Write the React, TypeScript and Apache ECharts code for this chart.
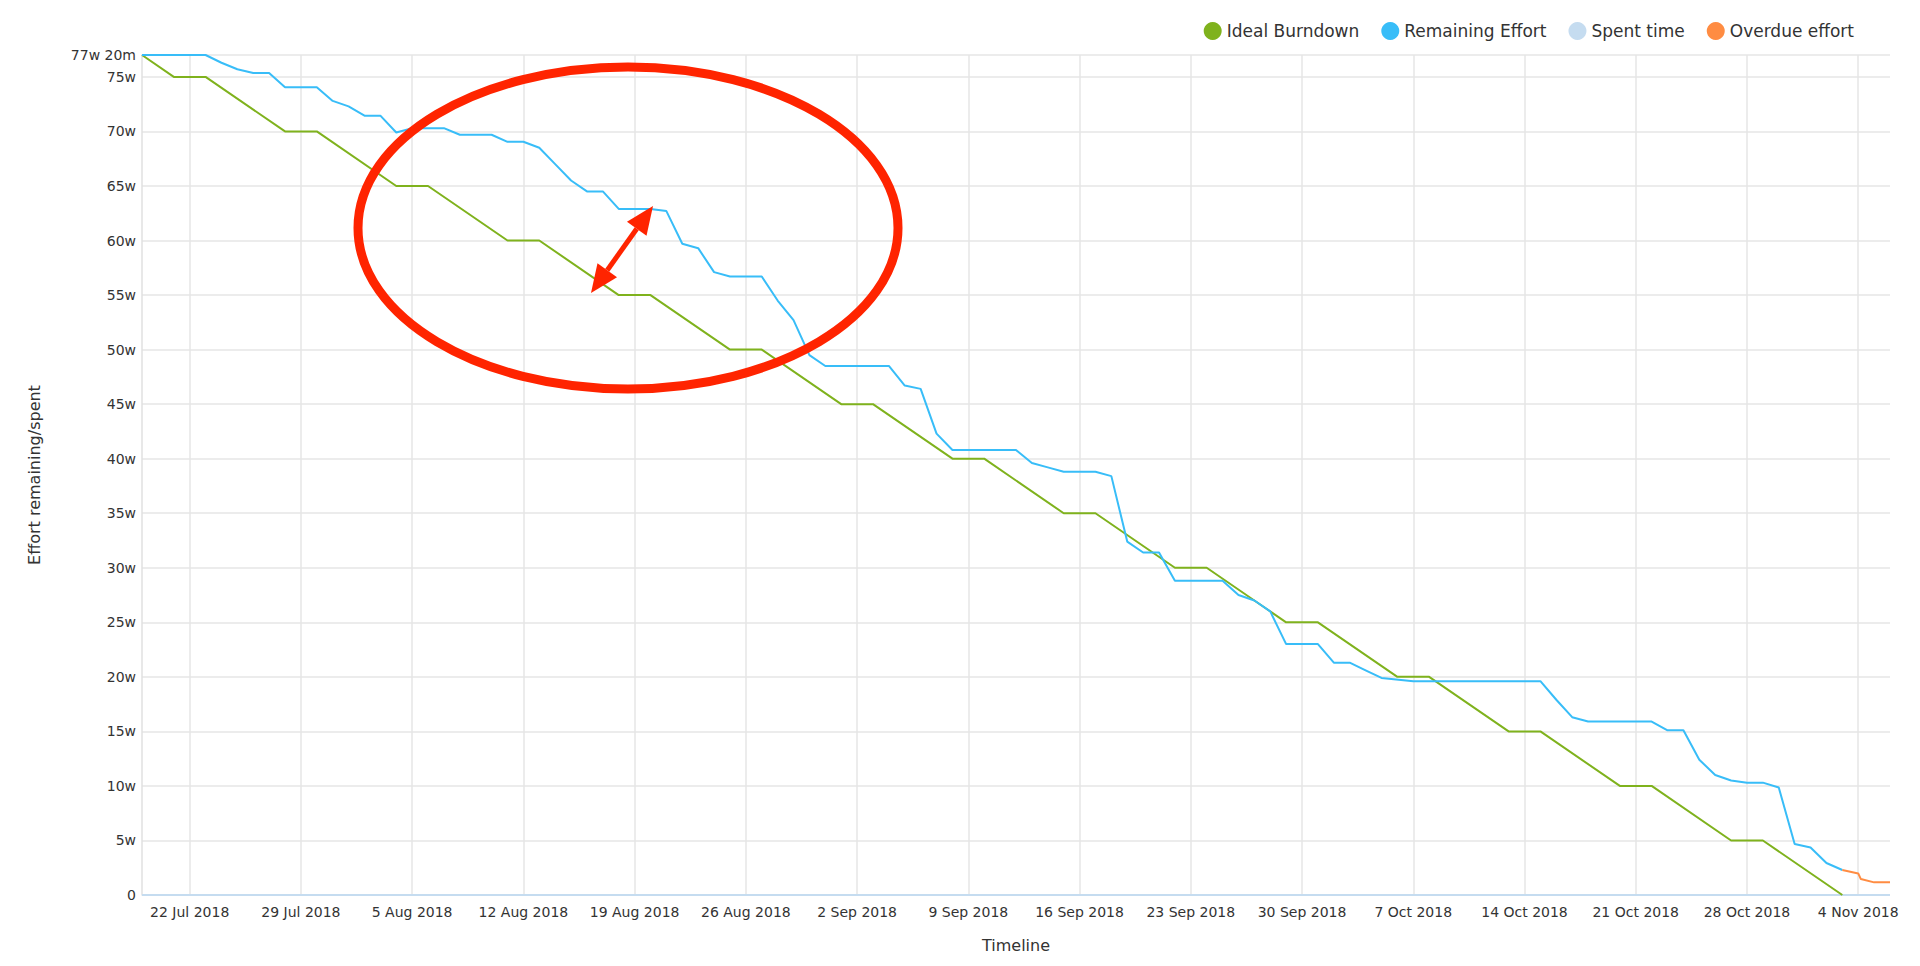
import React, { useEffect, useRef } from 'react';
import * as echarts from 'echarts';

// ---------- data ----------
const axisStart = '2018-07-19';
const axisEnd = '2018-11-06';
const yMax = 77 + 20 / 2400; // 77w 20m
const yInterval = 5;

const weekTicks = [
  '2018-07-22', '2018-07-29', '2018-08-05', '2018-08-12', '2018-08-19', '2018-08-26',
  '2018-09-02', '2018-09-09', '2018-09-16', '2018-09-23', '2018-09-30', '2018-10-07',
  '2018-10-14', '2018-10-21', '2018-10-28', '2018-11-04',
];
const monthNames = ['Jan', 'Feb', 'Mar', 'Apr', 'May', 'Jun', 'Jul', 'Aug', 'Sep', 'Oct', 'Nov', 'Dec'];

const seriesNames = ['Ideal Burndown', 'Remaining Effort', 'Spent time', 'Overdue effort'];
const seriesColors = ['#7fb21d', '#38bdf8', '#c5dcf0', '#ff8c42'];

const idealDates = [
  '2018-07-19', '2018-07-21', '2018-07-23', '2018-07-28', '2018-07-30', '2018-08-04', '2018-08-06',
  '2018-08-11', '2018-08-13', '2018-08-18', '2018-08-20', '2018-08-25', '2018-08-27', '2018-09-01',
  '2018-09-03', '2018-09-08', '2018-09-10', '2018-09-15', '2018-09-17', '2018-09-22', '2018-09-24',
  '2018-09-29', '2018-10-01', '2018-10-06', '2018-10-08', '2018-10-13', '2018-10-15', '2018-10-20',
  '2018-10-22', '2018-10-27', '2018-10-29', '2018-11-03',
];
const idealValues = [
  yMax, 75, 75, 70, 70, 65, 65,
  60, 60, 55, 55, 50, 50, 45,
  45, 40, 40, 35, 35, 30, 30,
  25, 25, 20, 20, 15, 15, 10,
  10, 5, 5, 0,
];

const remainingDates = [
  '2018-07-19', '2018-07-23', '2018-07-24', '2018-07-25', '2018-07-26', '2018-07-27', '2018-07-28',
  '2018-07-30', '2018-07-31', '2018-08-01', '2018-08-02', '2018-08-03', '2018-08-04', '2018-08-05',
  '2018-08-07', '2018-08-08', '2018-08-10', '2018-08-11', '2018-08-12', '2018-08-13', '2018-08-14',
  '2018-08-15', '2018-08-16', '2018-08-17', '2018-08-18', '2018-08-20', '2018-08-21', '2018-08-22',
  '2018-08-23', '2018-08-24', '2018-08-25', '2018-08-27', '2018-08-28', '2018-08-29', '2018-08-30',
  '2018-08-31', '2018-09-04', '2018-09-05', '2018-09-06', '2018-09-07', '2018-09-08', '2018-09-12',
  '2018-09-13', '2018-09-14', '2018-09-15', '2018-09-17', '2018-09-18', '2018-09-19', '2018-09-20',
  '2018-09-21', '2018-09-22', '2018-09-25', '2018-09-26', '2018-09-27', '2018-09-28', '2018-09-29',
  '2018-10-01', '2018-10-02', '2018-10-03', '2018-10-04', '2018-10-05', '2018-10-07', '2018-10-15',
  '2018-10-16', '2018-10-17', '2018-10-18', '2018-10-22', '2018-10-23', '2018-10-24', '2018-10-25',
  '2018-10-26', '2018-10-27', '2018-10-28', '2018-10-29', '2018-10-30', '2018-10-31', '2018-11-01',
  '2018-11-02', '2018-11-03',
];
const remainingValues = [
  yMax, yMax, 76.3, 75.7, 75.36, 75.36, 74.05,
  74.05, 72.8, 72.3, 71.45, 71.45, 69.9, 70.3,
  70.3, 69.7, 69.7, 69.05, 69.05, 68.5, 67.0,
  65.5, 64.5, 64.5, 62.9, 62.9, 62.7, 59.7,
  59.3, 57.1, 56.7, 56.7, 54.5, 52.7, 49.5,
  48.5, 48.5, 46.7, 46.4, 42.3, 40.8, 40.8,
  39.6, 39.2, 38.8, 38.8, 38.4, 32.4, 31.4,
  31.4, 28.8, 28.8, 27.5, 27.0, 26.0, 23.0,
  23.0, 21.3, 21.3, 20.6, 19.9, 19.6, 19.6,
  17.9, 16.3, 15.9, 15.9, 15.1, 15.1, 12.4,
  11.0, 10.5, 10.3, 10.3, 9.85, 4.67, 4.36,
  2.93, 2.29,
];

const spentDates = ['2018-07-19', '2018-11-06'];
const spentValues = [0, 0];

const overdueDates = ['2018-11-03', '2018-11-04', '2018-11-04 04:00', '2018-11-05', '2018-11-06'];
const overdueValues = [2.29, 1.98, 1.46, 1.16, 1.16];

// ---------- helpers ----------
const toTs = (s: string) => {
  const [datePart, timePart] = s.split(' ');
  const [y, m, d] = datePart.split('-').map(Number);
  const [hh, mm] = timePart ? timePart.split(':').map(Number) : [0, 0];
  return new Date(y, m - 1, d, hh, mm).getTime();
};
const pairs = (dates: string[], values: number[]) => dates.map((d, i) => [toTs(d), values[i]]);

const fmtEffort = (v: number) => {
  if (v === 0) return '0';
  const w = Math.floor(v + 1e-9);
  const mins = Math.round((v - w) * 2400);
  return mins > 0 ? `${w}w ${mins}m` : `${w}w`;
};
const fmtDate = (v: number) => {
  const d = new Date(v);
  return `${d.getDate()} ${monthNames[d.getMonth()]} ${d.getFullYear()}`;
};

const FONT = '"DejaVu Sans", sans-serif';

export default function App() {
  const ref = useRef<HTMLDivElement>(null);

  useEffect(() => {
    if (!ref.current) return;
    const chart = echarts.init(ref.current, undefined, { renderer: 'svg' });
    const dataSets = [
      pairs(idealDates, idealValues),
      pairs(remainingDates, remainingValues),
      pairs(spentDates, spentValues),
      pairs(overdueDates, overdueValues),
    ];
    const tickTs = weekTicks.map(toTs);

    // annotation arrow geometry
    const p1 = [591, 293];
    const p2 = [653, 206];
    const len = Math.hypot(p2[0] - p1[0], p2[1] - p1[1]);
    const u = [(p2[0] - p1[0]) / len, (p2[1] - p1[1]) / len];
    const n = [-u[1], u[0]];
    const L = 28;
    const W = 12;
    const b2 = [p2[0] - u[0] * L, p2[1] - u[1] * L];
    const b1 = [p1[0] + u[0] * L, p1[1] + u[1] * L];

    chart.setOption({
      animation: false,
      backgroundColor: '#ffffff',
      textStyle: { fontFamily: FONT },
      color: seriesColors,
      legend: {
        top: 17,
        right: 61,
        itemGap: 22,
        itemWidth: 18,
        itemHeight: 18,
        icon: 'circle',
        textStyle: { fontSize: 17, color: '#333', fontFamily: FONT },
        data: seriesNames,
      },
      grid: { left: 142, right: 30, top: 55, bottom: 71, containLabel: false },
      xAxis: {
        type: 'value',
        min: toTs(axisStart),
        max: toTs(axisEnd),
        name: 'Timeline',
        nameLocation: 'middle',
        nameGap: 42,
        nameTextStyle: { fontSize: 16, color: '#333', fontFamily: FONT },
        axisLine: { show: false },
        axisTick: { show: false, customValues: tickTs },
        axisLabel: {
          customValues: tickTs,
          formatter: (v: number) => fmtDate(v),
          fontSize: 14,
          color: '#333',
          fontFamily: FONT,
          margin: 10,
          hideOverlap: false,
        },
        splitLine: { show: true, lineStyle: { color: '#e6e6e6', width: 1.5 } },
      },
      yAxis: {
        type: 'value',
        min: 0,
        max: yMax,
        interval: yInterval,
        name: 'Effort remaining/spent',
        nameLocation: 'middle',
        nameGap: 100,
        nameTextStyle: { fontSize: 16, color: '#333', fontFamily: FONT },
        axisLine: { show: true, lineStyle: { color: '#e0e0e0', width: 1.5 } },
        axisTick: { show: false },
        axisLabel: {
          formatter: (v: number) => fmtEffort(v),
          fontSize: 14,
          color: '#333',
          fontFamily: FONT,
          margin: 6,
          showMaxLabel: true,
        },
        splitLine: { show: true, lineStyle: { color: '#e6e6e6', width: 1.5 } },
      },
      series: seriesNames.map((name, i) => ({
        name,
        type: 'line',
        data: dataSets[i],
        showSymbol: false,
        symbol: 'none',
        lineStyle: { width: 2, color: seriesColors[i] },
        itemStyle: { color: seriesColors[i] },
        z: i === 2 ? 1 : 3,
      })),
      graphic: [
        {
          type: 'ellipse',
          shape: { cx: 628, cy: 228, rx: 270, ry: 161 },
          style: { fill: 'none', stroke: '#ff2400', lineWidth: 9 },
          z: 100,
        },
        {
          type: 'line',
          shape: { x1: b1[0], y1: b1[1], x2: b2[0], y2: b2[1] },
          style: { stroke: '#ff2400', lineWidth: 5 },
          z: 100,
        },
        {
          type: 'polygon',
          shape: {
            points: [
              p2,
              [b2[0] + n[0] * W, b2[1] + n[1] * W],
              [b2[0] - n[0] * W, b2[1] - n[1] * W],
            ],
          },
          style: { fill: '#ff2400' },
          z: 100,
        },
        {
          type: 'polygon',
          shape: {
            points: [
              p1,
              [b1[0] + n[0] * W, b1[1] + n[1] * W],
              [b1[0] - n[0] * W, b1[1] - n[1] * W],
            ],
          },
          style: { fill: '#ff2400' },
          z: 100,
        },
      ],
    });
    return () => chart.dispose();
  }, []);

  return (
    <div
      ref={ref}
      style={{ position: 'fixed', left: 0, top: 0, width: 1920, height: 966, background: '#fff' }}
    />
  );
}
